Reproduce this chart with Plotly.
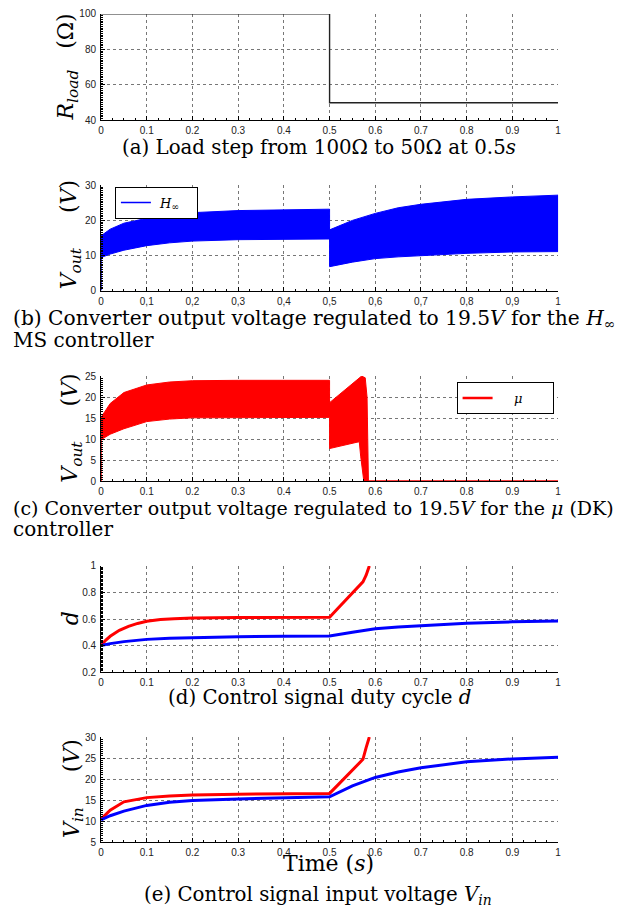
import plotly.graph_objects as go

W, H = 623, 919

# ---------------- data ----------------
# (a) load resistance step
t_load = [0.0, 0.5, 1.0]
r_load = [100, 50, 50]

# (b) H-infinity output voltage ripple envelope
hinf_t_pre = [0.0, 0.02, 0.05, 0.1, 0.15, 0.2, 0.3, 0.4, 0.5]
hinf_up_pre = [15.6, 17.5, 19.2, 20.6, 21.5, 22.2, 22.8, 23.1, 23.2]
hinf_lo_pre = [9.4, 10.4, 11.5, 12.8, 13.6, 14.1, 14.5, 14.6, 14.7]
hinf_t_post = [0.5, 0.55, 0.6, 0.65, 0.7, 0.8, 0.9, 1.0]
hinf_up_post = [17.3, 20.0, 22.0, 23.6, 24.6, 26.0, 26.7, 27.2]
hinf_lo_post = [6.8, 8.1, 9.1, 9.6, 10.0, 10.6, 11.0, 11.1]
hinf_start_t = [0.0, 0.0]
hinf_start_v = [0.0, 15.6]

# (c) mu (DK) output voltage ripple envelope
mu_t_pre = [0.0, 0.02, 0.05, 0.1, 0.15, 0.2, 0.3, 0.5]
mu_up_pre = [15.2, 18.5, 21.1, 22.9, 23.6, 23.9, 24.0, 24.0]
mu_lo_pre = [9.9, 11.2, 12.5, 14.2, 14.8, 15.1, 15.2, 15.2]
mu_t_up_post = [0.5, 0.52, 0.54, 0.56, 0.57, 0.578, 0.582, 0.585]
mu_up_post = [18.7, 20.5, 22.3, 24.1, 25.0, 24.6, 20.0, 0.0]
mu_t_lo_post = [0.5, 0.53, 0.56, 0.565, 0.568, 0.575, 0.585]
mu_lo_post = [7.8, 8.5, 9.3, 9.4, 6.0, 0.0, 0.0]
mu_start_t = [0.0, 0.0]
mu_start_v = [0.0, 15.2]
mu_off_t = [0.585, 1.0]
mu_off_v = [0.0, 0.0]

# (d) duty cycle
d_mu_t = [0, 0.01, 0.02, 0.04, 0.06, 0.08, 0.1, 0.13, 0.16, 0.2, 0.3, 0.4, 0.5,
          0.52, 0.54, 0.56, 0.573, 0.58, 0.587]
d_mu = [0.40, 0.44, 0.47, 0.515, 0.545, 0.567, 0.583, 0.596, 0.603, 0.607, 0.611,
        0.612, 0.613, 0.687, 0.76, 0.83, 0.88, 0.93, 1.0]
d_hinf_t = [0, 0.02, 0.05, 0.1, 0.15, 0.2, 0.3, 0.4, 0.5, 0.55, 0.6, 0.65, 0.7,
            0.8, 0.9, 1.0]
d_hinf = [0.40, 0.415, 0.43, 0.447, 0.455, 0.46, 0.467, 0.47, 0.472, 0.50, 0.527,
          0.541, 0.551, 0.569, 0.579, 0.586]

# (e) input voltage
vin_mu_t = [0, 0.02, 0.05, 0.08, 0.1, 0.15, 0.2, 0.3, 0.4, 0.5, 0.52, 0.54, 0.56,
            0.573, 0.58, 0.587]
vin_mu = [10.5, 12.6, 14.6, 15.3, 15.6, 16.0, 16.2, 16.4, 16.5, 16.6, 18.8, 21.0,
          23.2, 24.7, 27.5, 30.0]
vin_hinf_t = [0, 0.02, 0.05, 0.1, 0.15, 0.2, 0.3, 0.4, 0.5, 0.55, 0.6, 0.65, 0.7,
              0.8, 0.9, 1.0]
vin_hinf = [10.3, 11.3, 12.4, 13.75, 14.5, 14.9, 15.3, 15.6, 15.8, 18.4, 20.4, 21.7,
            22.7, 24.1, 24.8, 25.2]

# tick labels
x_ticks = [round(0.1 * i, 1) for i in range(11)]
x_text_dot = ["0"] + [f"{v:.1f}" for v in x_ticks[1:-1]] + ["1"]
x_text_comma = [s.replace(".", ",") for s in x_text_dot]
y_ticks_a = [40, 60, 80, 100]
y_ticks_b = [0, 10, 20, 30]
y_ticks_c = [0, 5, 10, 15, 20, 25]
y_ticks_d = [0.2, 0.4, 0.6, 0.8, 1.0]
y_text_d = ["0.2", "0.4", "0.6", "0.8", "1"]
y_ticks_e = [5, 10, 15, 20, 25, 30]

BLUE = "#0000ff"
RED = "#ff0000"
SERIF = "DejaVu Serif"
SANS = "Liberation Sans"
NB = "\u00a0"

# ---------------- layout helpers (pixel -> paper) ----------------
def px_x(x):
    return x / W


def px_y(y):
    return 1 - y / H


def ydom(top, bottom):
    return [px_y(bottom), px_y(top)]


XDOM = [px_x(99), px_x(560.5)]

fig = go.Figure()

# (a)
fig.add_trace(go.Scatter(x=t_load, y=r_load, mode="lines", line_shape="hv",
                         line=dict(color="#222", width=1.4), showlegend=False,
                         xaxis="x", yaxis="y"))


def band(t_pre, up_pre, t_up_post, up_post, t_lo_post, lo_post, lo_pre, color, ax):
    xs = list(t_pre) + list(t_up_post) + list(t_lo_post)[::-1] + list(t_pre)[::-1]
    ys = list(up_pre) + list(up_post) + list(lo_post)[::-1] + list(lo_pre)[::-1]
    return go.Scatter(x=xs, y=ys, mode="lines", fill="toself", fillcolor=color,
                      line=dict(color=color, width=1), showlegend=False,
                      hoverinfo="skip", xaxis="x" + ax, yaxis="y" + ax)


# (b)
fig.add_trace(band(hinf_t_pre, hinf_up_pre, hinf_t_post, hinf_up_post,
                   hinf_t_post, hinf_lo_post, hinf_lo_pre, BLUE, "2"))
fig.add_trace(go.Scatter(x=hinf_start_t, y=hinf_start_v, mode="lines",
                         line=dict(color=BLUE, width=1.5),
                         name=f"{NB}<i>H</i><sub>∞</sub>{NB * 3}",
                         legend="legend", xaxis="x2", yaxis="y2"))

# (c)
fig.add_trace(band(mu_t_pre, mu_up_pre, mu_t_up_post, mu_up_post,
                   mu_t_lo_post, mu_lo_post, mu_lo_pre, RED, "3"))
fig.add_trace(go.Scatter(x=mu_start_t, y=mu_start_v, mode="lines",
                         line=dict(color=RED, width=1.5), showlegend=False,
                         xaxis="x3", yaxis="y3"))
fig.add_trace(go.Scatter(x=mu_off_t, y=mu_off_v, mode="lines",
                         line=dict(color=RED, width=2.5),
                         name=f"{NB * 4}<i>μ</i>{NB * 6}",
                         legend="legend2", xaxis="x3", yaxis="y3"))

# (d)
fig.add_trace(go.Scatter(x=d_mu_t, y=d_mu, mode="lines",
                         line=dict(color=RED, width=3), showlegend=False,
                         xaxis="x4", yaxis="y4"))
fig.add_trace(go.Scatter(x=d_hinf_t, y=d_hinf, mode="lines",
                         line=dict(color=BLUE, width=3), showlegend=False,
                         xaxis="x4", yaxis="y4"))

# (e)
fig.add_trace(go.Scatter(x=vin_mu_t, y=vin_mu, mode="lines",
                         line=dict(color=RED, width=3), showlegend=False,
                         xaxis="x5", yaxis="y5"))
fig.add_trace(go.Scatter(x=vin_hinf_t, y=vin_hinf, mode="lines",
                         line=dict(color=BLUE, width=3), showlegend=False,
                         xaxis="x5", yaxis="y5"))

# ---------------- axes ----------------
common = dict(showline=True, linecolor="black", linewidth=1, mirror=False,
              ticks="inside", ticklen=4, tickcolor="black", tickwidth=1,
              showgrid=True, gridcolor="#777", griddash="dot", gridwidth=1,
              zeroline=False, tickfont=dict(family=SANS, size=10, color="#222"),
              minor=dict(ticks="inside", ticklen=2, tickcolor="black", showgrid=False))

panels = [
    ("", (8, 116), [40, 100], y_ticks_a, [str(v) for v in y_ticks_a], x_text_dot),
    ("2", (181.7, 288.3), [0, 30], y_ticks_b, [str(v) for v in y_ticks_b], x_text_comma),
    ("3", (375, 481.7), [0, 25], y_ticks_c, [str(v) for v in y_ticks_c], x_text_dot),
    ("4", (567.3, 675), [0.2, 1.0], y_ticks_d, y_text_d, x_text_dot),
    ("5", (740.7, 847.3), [5, 30], y_ticks_e, [str(v) for v in y_ticks_e], x_text_dot),
]

layout_axes = {}
for sfx, (top, bot), yr, yt, ytt, xtt in panels:
    layout_axes["xaxis" + sfx] = dict(
        common, domain=XDOM, range=[0, 1], anchor="y" + sfx,
        tickvals=x_ticks, ticktext=xtt, ticklabelstandoff=1,
        minor=dict(common["minor"], dtick=0.025))
    layout_axes["yaxis" + sfx] = dict(
        common, domain=ydom(top, bot), range=yr, anchor="x" + sfx,
        tickvals=yt, ticktext=ytt, ticklabelstandoff=2,
        minor=dict(common["minor"], nticks=20))

fig.update_layout(**layout_axes)

# ---------------- text ----------------
ann = []


def text(x, y, s, size, xanchor="center", **kw):
    ann.append(dict(x=px_x(x), y=px_y(y), xref="paper", yref="paper", text=s,
                    showarrow=False, xanchor=xanchor, yanchor="middle",
                    font=dict(family=SERIF, size=size, color="black"), **kw))


# y-axis titles
text(65, 62, f"<i>R</i><sub><i>load</i></sub>{NB * 3}(Ω)", 22, textangle=-90)
text(69, 232, f"<i>V</i><sub><i>out</i></sub>{NB * 5}(<i>V</i>)", 22, textangle=-90)
text(69, 428, f"<i>V</i><sub><i>out</i></sub>{NB * 5}(<i>V</i>)", 22, textangle=-90)
text(69, 620, "<i>d</i>", 22, textangle=-90)
text(71, 793, f"<i>V</i><sub><i>in</i></sub>{NB * 5}(<i>V</i>)", 22, textangle=-90)

# x-axis title of the bottom panel
text(329, 869, "Time (<i>s</i>)", 22)

# sub-figure captions
text(319, 143, "(a) Load step from 100Ω to 50Ω at 0.5<i>s</i>", 19.8)
text(8, 317, "(b) Converter output voltage regulated to 19.5<i>V</i> for the <i>H</i><sub>∞</sub>",
     20.2, xanchor="left")
text(8, 338, "MS controller", 20, xanchor="left")
text(8, 509, "(c) Converter output voltage regulated to 19.5<i>V</i> for the <i>μ</i> (DK)",
     19.0, xanchor="left")
text(8, 530, "controller", 20, xanchor="left")
text(320, 701, "(d) Control signal duty cycle <i>d</i>", 19.8)
text(318, 901, "(e) Control signal input voltage <i>V</i><sub><i>in</i></sub>", 19.8)

legend_style = dict(bgcolor="white", bordercolor="black", borderwidth=1,
                    font=dict(family=SERIF, size=13, color="black"),
                    xanchor="left", yanchor="top", itemwidth=30,
                    tracegroupgap=0)

fig.update_layout(
    width=W, height=H, margin=dict(l=0, r=0, t=0, b=0),
    paper_bgcolor="white", plot_bgcolor="white",
    annotations=ann,
    legend=dict(legend_style, x=px_x(113), y=px_y(183)),
    legend2=dict(legend_style, x=px_x(458), y=px_y(381)),
)

fig.write_html("out.html")
